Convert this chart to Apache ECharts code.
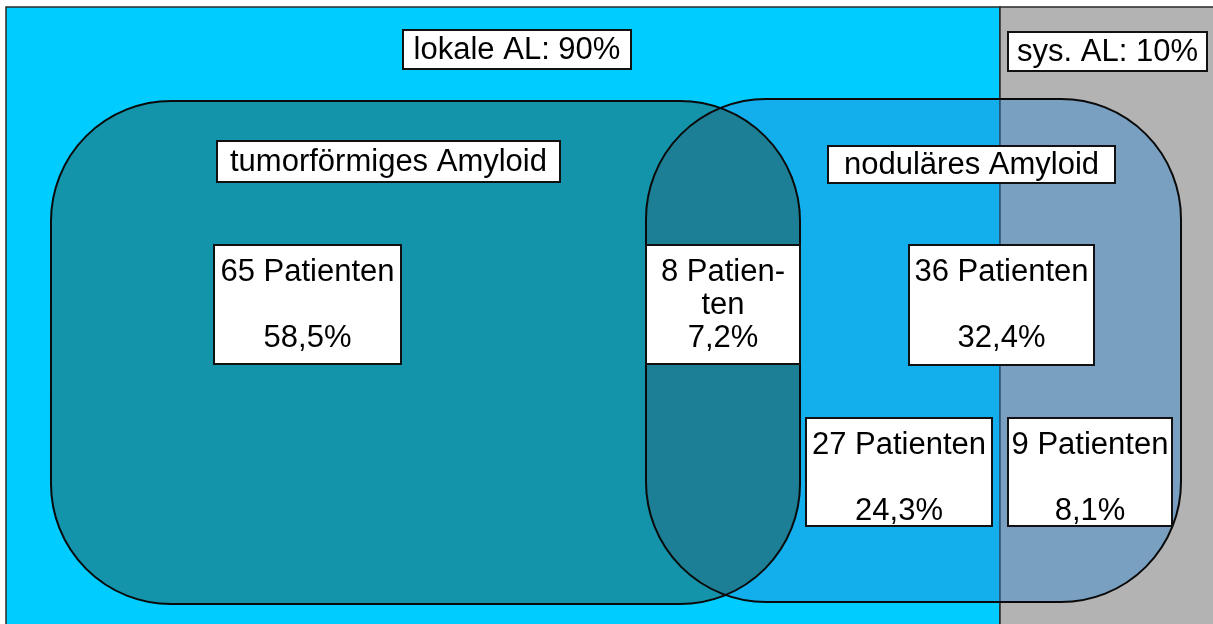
<!DOCTYPE html>
<html>
<head>
<meta charset="utf-8">
<style>
  html, body { margin: 0; padding: 0; background: #fff; }
  #chart-container { width: 1213px; height: 624px; }
</style>
<script src="https://cdn.jsdelivr.net/npm/echarts@6/dist/echarts.min.js"></script>
</head>
<body>
<div id="chart-container"></div>
<script>
var dom = document.getElementById('chart-container');
var myChart = echarts.init(dom, null, { renderer: 'canvas' });

// Gesamtkollektiv: lokale vs. systemische AL (Ausdehnung auf der x-Achse)
const gruppen = ['lokale AL: 90%', 'sys. AL: 10%'];
const gruppenVon = [6, 1000];
const gruppenBis = [1000, 1220];
const rahmenOben = 7;
const rahmenUnten = 630;

// die beiden Mengen
const mengen = ['tumorförmiges Amyloid', 'noduläres Amyloid'];
const mengenLinks = [51, 646];
const mengenRechts = [800, 1181];
const mengenOben = [101, 99];
const mengenUnten = [604, 602];

// Überschriften (Gruppen + Mengen)
const titelText = gruppen.concat(mengen);
const titelLinks = [403, 1008, 217, 828];
const titelRechts = [631, 1207, 560, 1115];
const titelOben = [30, 32, 141, 146];
const titelUnten = [69, 71, 182, 183];

// Felder mit Patientenzahlen
const felderPatienten = [65, 8, 36, 27, 9];
const felderAnteil = ['58,5%', '7,2%', '32,4%', '24,3%', '8,1%'];
const felderUmbruch = [false, true, false, false, false];
const felderLinks = [214, 646, 909, 806, 1008];
const felderRechts = [401, 800, 1094, 992, 1172];
const felderOben = [245, 245, 245, 418, 418];
const felderUnten = [364, 364, 365, 526, 526];

const gruppenFarben = ['#00CCFF', '#B3B3B3'];
const mengenFarben = ['#1494AA', 'rgba(44,134,211,0.43)'];
const schnittFarbe = '#1D7F95';
const eckRadius = 120;
const schrift = '"Liberation Sans", Arial, sans-serif';
const zeilenHoehe = 33;

function box(api, x0, y0, x1, y1) {
    var p0 = api.coord([x0, y0]);
    var p1 = api.coord([x1, y1]);
    return { x: p0[0], y: p0[1], width: p1[0] - p0[0], height: p1[1] - p0[1] };
}

function mengeShape(api, i) {
    var s = box(api, mengenLinks[i], mengenOben[i], mengenRechts[i], mengenUnten[i]);
    s.r = eckRadius;
    return s;
}

function feldText(i) {
    if (felderUmbruch[i]) {
        return felderPatienten[i] + ' Patien-\nten\n' + felderAnteil[i];
    }
    return felderPatienten[i] + ' Patienten\n\n' + felderAnteil[i];
}

// oben: true -> Text oben im Kasten (fester Innenabstand), sonst zentriert
function labelBox(shape, text, oben) {
    var zeilen = text.split('\n').length;
    var ty = oben
        ? shape.y + 11 + zeilen * zeilenHoehe / 2
        : shape.y + shape.height / 2 + 1;
    return {
        type: 'group',
        children: [
            {
                type: 'rect',
                shape: shape,
                style: { fill: '#fff', stroke: '#111', lineWidth: 2 }
            },
            {
                type: 'text',
                style: {
                    text: text,
                    x: shape.x + shape.width / 2,
                    y: ty,
                    align: 'center',
                    verticalAlign: 'middle',
                    fontFamily: schrift,
                    fontSize: 31,
                    lineHeight: zeilenHoehe,
                    fill: '#000'
                }
            }
        ]
    };
}

var option = {
    animation: false,
    grid: { left: 0, right: 0, top: 0, bottom: 0 },
    xAxis: { type: 'value', min: 0, max: 1213, show: false },
    yAxis: { type: 'value', min: 0, max: 624, inverse: true, show: false },
    series: [
        {
            // Hintergrund: lokale / systemische AL
            type: 'custom',
            z: 1,
            data: gruppen.map(function (g, i) { return [gruppenVon[i], gruppenBis[i], rahmenOben, rahmenUnten]; }),
            encode: { x: [0, 1], y: [2, 3] },
            renderItem: function (params, api) {
                return {
                    type: 'rect',
                    shape: box(api, api.value(0), api.value(2), api.value(1), api.value(3)),
                    style: { fill: gruppenFarben[params.dataIndex], stroke: '#2a2a2a', lineWidth: 1.5 }
                };
            }
        },
        {
            // Flächen der beiden Mengen
            type: 'custom',
            z: 2,
            data: mengen.map(function (m, i) { return [mengenLinks[i], mengenOben[i]]; }),
            renderItem: function (params, api) {
                return {
                    type: 'rect',
                    shape: mengeShape(api, params.dataIndex),
                    style: { fill: mengenFarben[params.dataIndex] }
                };
            }
        },
        {
            // Schnittmenge
            type: 'custom',
            z: 3,
            data: [[mengenLinks[1], mengenOben[1]]],
            renderItem: function (params, api) {
                return {
                    type: 'rect',
                    shape: mengeShape(api, 0),
                    clipPath: { type: 'rect', shape: mengeShape(api, 1) },
                    style: { fill: schnittFarbe }
                };
            }
        },
        {
            // Umrisse
            type: 'custom',
            z: 4,
            data: mengen.map(function (m, i) { return [mengenLinks[i], mengenOben[i]]; }),
            renderItem: function (params, api) {
                return {
                    type: 'rect',
                    shape: mengeShape(api, params.dataIndex),
                    style: { fill: 'none', stroke: '#0a0a0a', lineWidth: 2 }
                };
            }
        },
        {
            // Überschriften
            type: 'custom',
            z: 5,
            data: titelText.map(function (t, i) { return [titelLinks[i], titelOben[i], titelRechts[i], titelUnten[i]]; }),
            renderItem: function (params, api) {
                var s = box(api, api.value(0), api.value(1), api.value(2), api.value(3));
                return labelBox(s, titelText[params.dataIndex], false);
            }
        },
        {
            // Patientenzahlen
            type: 'custom',
            z: 6,
            data: felderPatienten.map(function (n, i) { return [felderLinks[i], felderOben[i], felderRechts[i], felderUnten[i]]; }),
            renderItem: function (params, api) {
                var s = box(api, api.value(0), api.value(1), api.value(2), api.value(3));
                return labelBox(s, feldText(params.dataIndex), true);
            }
        }
    ]
};

myChart.setOption(option);
window.addEventListener('resize', myChart.resize);
</script>
</body>
</html>
